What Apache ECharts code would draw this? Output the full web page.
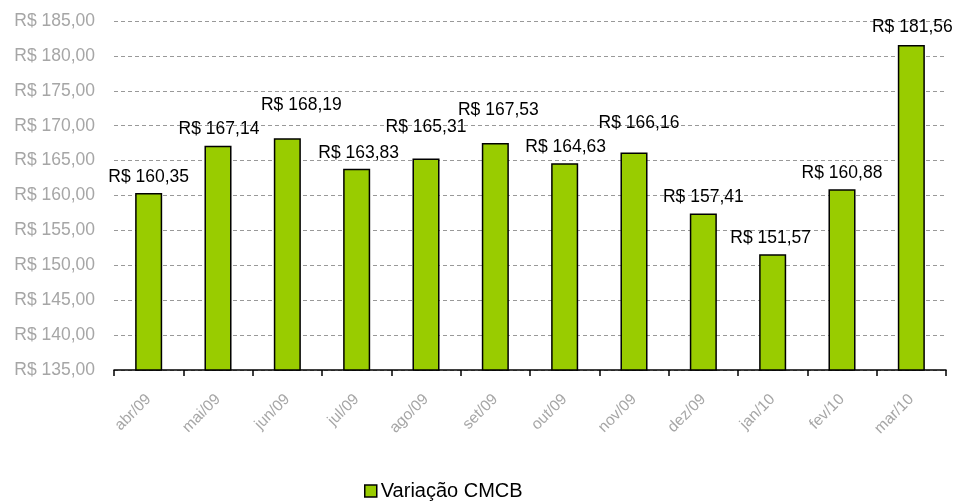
<!DOCTYPE html>
<html><head><meta charset="utf-8">
<script src="https://cdn.jsdelivr.net/npm/echarts@6/dist/echarts.min.js"></script>
<style>html,body{margin:0;padding:0;background:#fff}#c{width:954px;height:502px}</style>
</head><body><div id="c"></div>
<script>
const categories = ['abr/09','mai/09','jun/09','jul/09','ago/09','set/09','out/09','nov/09','dez/09','jan/10','fev/10','mar/10'];
const values = [160.35,167.14,168.19,163.83,165.31,167.53,164.63,166.16,157.41,151.57,160.88,181.56];
const seriesName = 'Variação CMCB';
const yMin = 135, yMax = 185, yStep = 5;
// manual label nudges (as in the original spreadsheet chart), in pixels
const labelNudges = [[0,0],[1,0],[14,-17],[2,0],[0,-15],[3,-17],[1,0],[5,-13],[0,0],[-2,0],[0,0],[1,-2]];
const fmt = v => 'R$ ' + v.toFixed(2).replace('.', ',');
const chart = echarts.init(document.getElementById('c'));
chart.setOption({
  animation: false,
  textStyle: {fontFamily: 'Liberation Sans, Arial, sans-serif'},
  grid: {left: 114, right: 8, top: 21, bottom: 132},
  legend: {
    top: 481, left: 364, padding: 0,
    icon: 'rect', itemWidth: 12, itemHeight: 12, itemGap: 4,
    itemStyle: {borderWidth: 1.5, borderColor: '#000'},
    textStyle: {fontSize: 20, color: '#000', padding: [0, 0, 0, -1]},
    data: [seriesName]
  },
  xAxis: {
    type: 'category', data: categories,
    axisLine: {lineStyle: {color: '#000', width: 1.5}},
    axisTick: {show: true, length: 6, lineStyle: {color: '#000', width: 1.5}},
    axisLabel: {rotate: 45, color: '#a6a6a6', fontSize: 15.5, margin: 27}
  },
  yAxis: {
    type: 'value', min: yMin, max: yMax, interval: yStep,
    axisLine: {show: false}, axisTick: {show: false},
    axisLabel: {color: '#a6a6a6', fontSize: 17.5, margin: 19, formatter: v => fmt(v)},
    splitLine: {lineStyle: {color: '#999', type: [4, 3], width: 1}}
  },
  series: [{
    name: seriesName, type: 'bar', barWidth: '39%',
    data: values.map((v, i) => ({value: v, label: {offset: labelNudges[i]}})),
    itemStyle: {color: '#99cc00', borderColor: '#000', borderWidth: 1.5},
    label: {show: true, position: 'top', distance: 7, color: '#000', fontSize: 17.5, formatter: p => fmt(p.value)}
  }]
});
</script></body></html>
